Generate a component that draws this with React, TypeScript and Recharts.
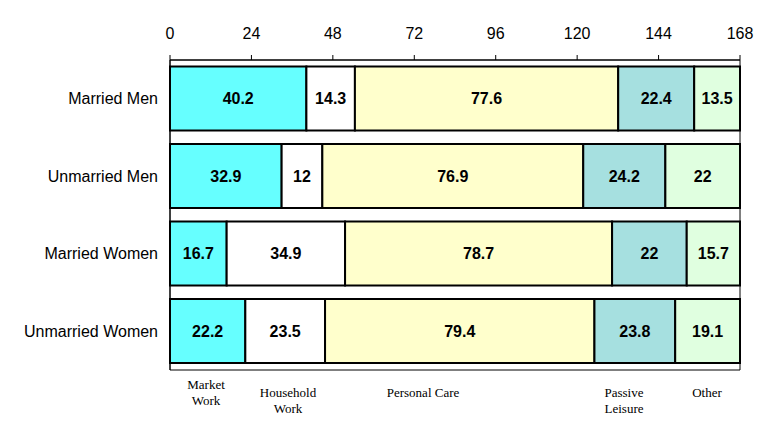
import React from 'react';
import { BarChart, Bar, XAxis, YAxis, LabelList, ReferenceArea } from 'recharts';

const groups = ['Married Men', 'Unmarried Men', 'Married Women', 'Unmarried Women'];
const seriesNames = ['Market Work', 'Household Work', 'Personal Care', 'Passive Leisure', 'Other'];
const marketWork = [40.2, 32.9, 16.7, 22.2];
const householdWork = [14.3, 12, 34.9, 23.5];
const personalCare = [77.6, 76.9, 78.7, 79.4];
const passiveLeisure = [22.4, 24.2, 22, 23.8];
const other = [13.5, 22, 15.7, 19.1];
const xTicks = [0, 24, 48, 72, 96, 120, 144, 168];

const seriesValues = [marketWork, householdWork, personalCare, passiveLeisure, other];
const seriesColors = ['#66FFFF', '#FFFFFF', '#FFFFCC', '#A6E0E0', '#E0FFE0'];

const data = groups.map((g, i) => {
  const row: Record<string, string | number> = { name: g };
  seriesNames.forEach((s, j) => {
    row[s] = seriesValues[j][i];
  });
  return row;
});

const legendLayout = [
  { lines: ['Market', 'Work'], x: 206, y: 377 },
  { lines: ['Household', 'Work'], x: 288, y: 385 },
  { lines: ['Personal Care'], x: 423, y: 385 },
  { lines: ['Passive', 'Leisure'], x: 624, y: 385 },
  { lines: ['Other'], x: 707, y: 385 },
];

export default function App() {
  return (
    <div style={{ position: 'absolute', left: 0, top: 0, width: 777, height: 424, background: '#fff' }}>
      <BarChart
        width={777}
        height={424}
        data={data}
        layout="vertical"
        margin={{ top: 0, right: 37, bottom: 54, left: 0 }}
        barCategoryGap="8.4%"
        style={{ fontFamily: '"Liberation Sans", Arial, sans-serif' }}
      >
        <XAxis
          type="number"
          orientation="top"
          domain={[0, 168]}
          ticks={xTicks}
          interval={0}
          height={60}
          tickSize={5}
          tickMargin={16}
          axisLine={{ stroke: '#000' }}
          tickLine={{ stroke: '#000' }}
          tick={{ fill: '#000', fontSize: 16 }}
        />
        <YAxis
          type="category"
          dataKey="name"
          width={170}
          tickLine={false}
          tickSize={0}
          tickMargin={12}
          axisLine={{ stroke: '#000' }}
          tick={{ fill: '#000', fontSize: 16 }}
        />
        {seriesNames.map((s, j) => (
          <Bar
            key={s}
            dataKey={s}
            stackId="a"
            fill={seriesColors[j]}
            stroke="#000"
            strokeWidth={2}
            isAnimationActive={false}
          >
            <LabelList dataKey={s} position="center" fill="#000" fontWeight="bold" fontSize={16} />
          </Bar>
        ))}
        <ReferenceArea x1={0} x2={168} fill="none" stroke="#000" strokeWidth={1} ifOverflow="visible" />
      </BarChart>
      {legendLayout.map((l, i) => (
        <div
          key={seriesNames[i]}
          style={{
            position: 'absolute',
            left: l.x - 60,
            top: l.y,
            width: 120,
            textAlign: 'center',
            fontFamily: '"Liberation Serif", "Times New Roman", serif',
            fontSize: 13,
            lineHeight: '16px',
            color: '#000',
          }}
        >
          {l.lines.map((t) => (
            <div key={t}>{t}</div>
          ))}
        </div>
      ))}
    </div>
  );
}
